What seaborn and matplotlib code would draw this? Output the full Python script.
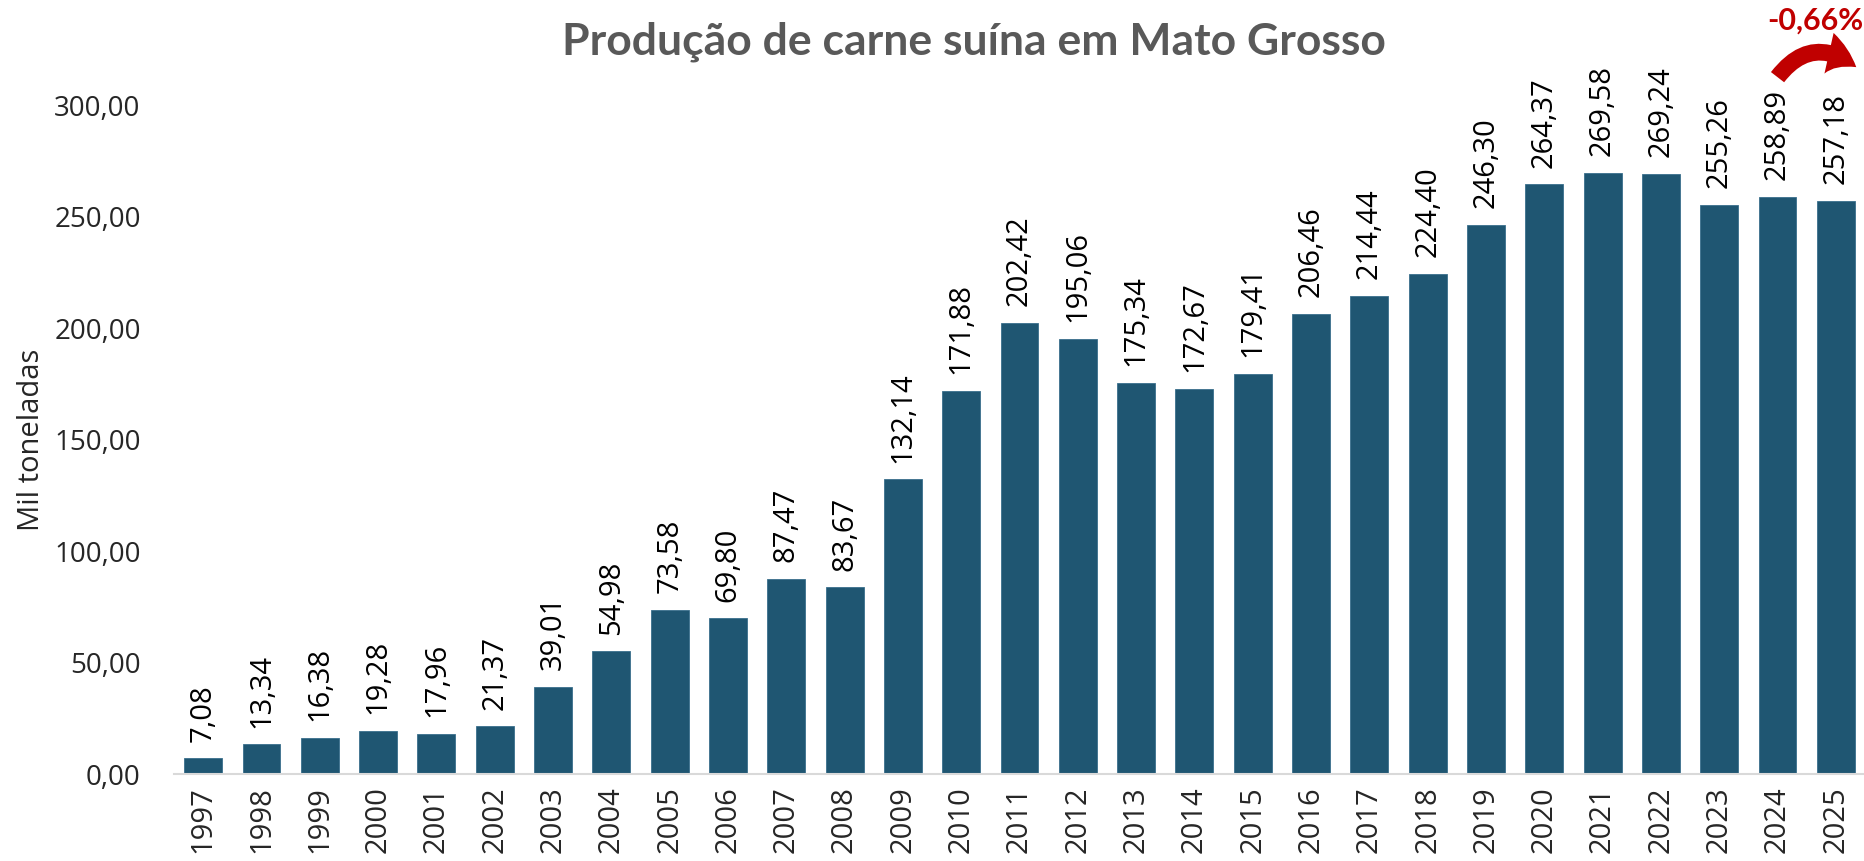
import matplotlib.pyplot as plt
import seaborn as sns
import pandas as pd

anos = [str(a) for a in range(1997, 2026)]
producao = [7.08, 13.34, 16.38, 19.28, 17.96, 21.37, 39.01, 54.98, 73.58, 69.80,
            87.47, 83.67, 132.14, 171.88, 202.42, 195.06, 175.34, 172.67, 179.41,
            206.46, 214.44, 224.40, 246.30, 264.37, 269.58, 269.24, 255.26, 258.89,
            257.18]
variacao = "-0,66%"

df = pd.DataFrame({"ano": anos, "producao": producao})

sns.set_theme(style="white")
plt.rcParams['font.family'] = ['Open Sans', 'DejaVu Sans']

fig = plt.figure(figsize=(18.65, 8.61), dpi=100)
ax = fig.add_axes([0.0933, 0.101, 0.9067, 0.777])

sns.barplot(data=df, x="ano", y="producao", color="#1F5672", saturation=1,
            width=0.65, ax=ax, edgecolor="#3A6F8C", linewidth=0.6)

def fmt(v):
    return f"{v:.2f}".replace(".", ",")

ax.bar_label(ax.containers[0], labels=[fmt(v) for v in producao], rotation=90,
             padding=12, fontsize=21, color="black", clip_on=False)

ax.set_ylim(0, 300)
ax.set_xlim(-0.5, len(anos) - 0.5)
ax.set_yticks(range(0, 301, 50))
ax.set_yticklabels([fmt(v) for v in range(0, 301, 50)], fontsize=20)
ax.tick_params(axis="y", length=0, pad=24)
ax.tick_params(axis="x", length=0, pad=9, labelsize=21, labelrotation=90)
for lab in ax.get_xticklabels():
    lab.set_verticalalignment("top")

for s in ["top", "right", "left"]:
    ax.spines[s].set_visible(False)
ax.spines["bottom"].set_color("#D9D9D9")
ax.spines["bottom"].set_linewidth(1.5)

ax.set_xlabel("")
ax.set_ylabel("Mil toneladas", fontsize=21, labelpad=6)

fig.text(0.522, 0.951, "Produção de carne suína em Mato Grosso", ha="center",
         va="center", fontsize=32, fontweight="bold", color="#595959",
         family=["Lato", "DejaVu Sans"])

# seta da variação
ax.annotate("", xy=(28.35, 317), xytext=(27.0, 312.5), xycoords="data",
            annotation_clip=False,
            arrowprops=dict(arrowstyle="simple,head_width=1.5,head_length=1.1,tail_width=0.6",
                            connectionstyle="arc3,rad=-0.5", color="#C00000", lw=0,
                            mutation_scale=20, shrinkA=0, shrinkB=0))
ax.text(27.65, 338, variacao, ha="center", va="center", fontsize=22,
        fontweight="bold", color="#C00000", clip_on=False,
        family=["Lato", "DejaVu Sans"])

fig.savefig("out.png", dpi=100)
